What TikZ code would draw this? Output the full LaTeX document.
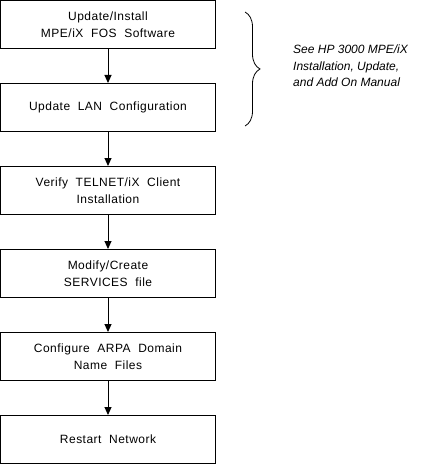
\documentclass[tikz,border=0pt]{standalone}
\usepackage{fontspec}
\setmainfont{Liberation Sans}
\newfontfamily\stepfont[LetterSpace=4,WordSpace=2]{Liberation Sans}
\usetikzlibrary{arrows.meta,positioning,decorations.pathreplacing}

\begin{document}
\begin{tikzpicture}[x=1bp,y=-1bp,node distance=34bp,
    StepBox/.style={draw,line width=1bp,minimum width=215bp,minimum height=48bp,
      inner sep=0pt,align=center,font=\stepfont\fontsize{12bp}{17bp}\selectfont},
    StepEdge/.style={line width=1bp,-{Triangle[width=7bp,length=8bp]}}]
  \useasboundingbox (0,0) rectangle (421,465);
  % steps
  \node[StepBox] (install) at (108,24.5) {Update/Install\\MPE/iX FOS Software};
  \node[StepBox,below=of install] (lan) {Update LAN Configuration};
  \node[StepBox,below=of lan] (telnet) {Verify TELNET/iX Client\\Installation};
  \node[StepBox,below=of telnet] (services) {Modify/Create\\SERVICES file};
  \node[StepBox,below=of services] (arpa) {Configure ARPA Domain\\Name Files};
  \node[StepBox,below=of arpa] (restart) {Restart Network};
  % edges
  \draw[StepEdge] (install) -- (lan);
  \draw[StepEdge] (lan) -- (telnet);
  \draw[StepEdge] (telnet) -- (services);
  \draw[StepEdge] (services) -- (arpa);
  \draw[StepEdge] (arpa) -- (restart);
  % brace and manual note
  \coordinate (bracetop) at (245,12);
  \coordinate (bracebot) at (245,126);
  \draw[line width=0.8bp,decorate,decoration={brace,amplitude=15bp}] (bracetop) -- (bracebot);
  \node[anchor=west,inner sep=0pt,align=left,font=\itshape\fontsize{12bp}{16.5bp}\selectfont]
    (manual) at (293,66) {See HP 3000 MPE/iX\\Installation, Update,\\and Add On Manual};
\end{tikzpicture}
\end{document}
